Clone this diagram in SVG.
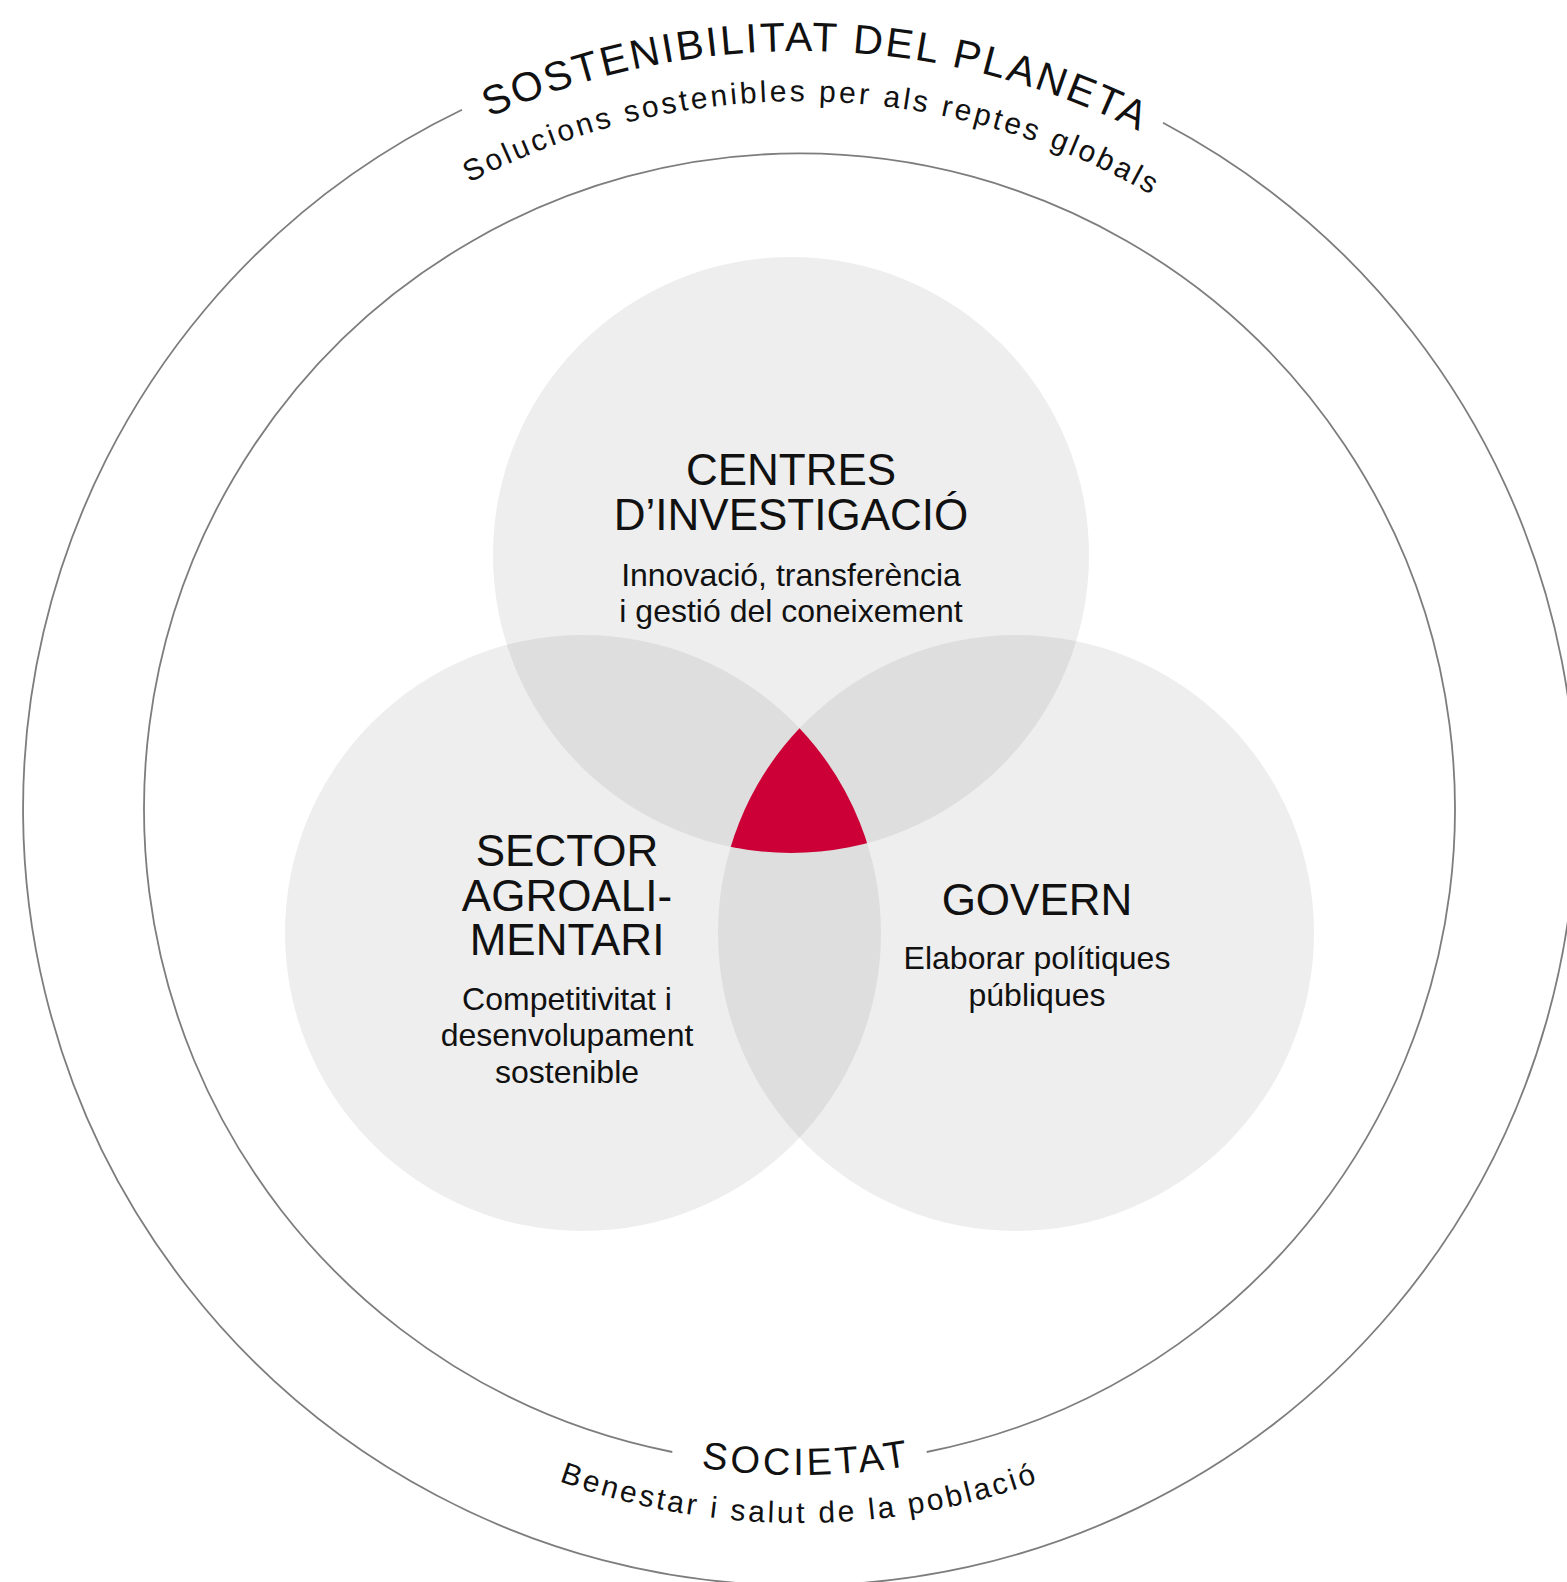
<svg xmlns="http://www.w3.org/2000/svg" width="1567" height="1582" viewBox="0 0 1567 1582">
  <style>
    .ring { fill: none; stroke: #7d7d7d; stroke-width: 1.8; }
    .disc { fill: #eeeeee; }
    .lens { fill: #dedede; }
    .core { fill: #cc0036; }
    .t { font-family: "Liberation Sans", Arial, Helvetica, sans-serif; fill: #111111; }
    .head { font-size: 44px; text-anchor: middle; }
    .sub { font-size: 32px; text-anchor: middle; }
    .arcHead { font-size: 41px; letter-spacing: 2.5px; }
    .arcSub { font-size: 30px; letter-spacing: 3px; }
  </style>
  <defs>
    <clipPath id="clipTop"><circle cx="791" cy="555" r="298"/></clipPath>
    <clipPath id="clipLeft"><circle cx="583" cy="933" r="298"/></clipPath>
    <clipPath id="clipLeftRight" clip-path="url(#clipLeft)"><circle cx="1016" cy="933" r="298"/></clipPath>
    <path id="arcTitle" d="M 41.5 809 A 758 758 0 0 1 1557.5 809"/>
    <path id="arcSubtitle" d="M 91.5 809 A 708 708 0 0 1 1507.5 809"/>
    <path id="arcSoc" d="M 133.5 809 A 666 666 0 0 0 1465.5 809"/>
    <path id="arcSocSub" d="M 85.5 809 A 714 714 0 0 0 1513.5 809"/>
  </defs>

  <g id="outer-ring">
    <path class="ring" d="M 1163 122.8 A 776.5 776.5 0 1 1 462 109.7"/>
    <text class="t arcHead" transform="rotate(1.3 799.5 809)"><textPath href="#arcTitle" startOffset="50%" text-anchor="middle">SOSTENIBILITAT DEL PLANETA</textPath></text>
    <text class="t arcSub" transform="rotate(1.1 799.5 809)"><textPath href="#arcSubtitle" startOffset="50%" text-anchor="middle">Solucions sostenibles per als reptes globals</textPath></text>
  </g>

  <g id="inner-ring">
    <path class="ring" d="M 926.7 1452 A 655.5 655.5 0 1 0 672.3 1452"/>
    <text class="t" style="font-size:38px;letter-spacing:3.4px" transform="rotate(-0.6 799.5 809)"><textPath href="#arcSoc" startOffset="50%" text-anchor="middle">SOCIETAT</textPath></text>
    <text class="t arcSub" style="letter-spacing:2.9px"><textPath href="#arcSocSub" startOffset="50%" text-anchor="middle">Benestar i salut de la població</textPath></text>
  </g>

  <g id="venn-discs">
    <circle id="disc-centres" class="disc" cx="791" cy="555" r="298"/>
    <circle id="disc-sector" class="disc" cx="583" cy="933" r="298"/>
    <circle id="disc-govern" class="disc" cx="1016" cy="933" r="298"/>
    <circle class="lens" cx="583" cy="933" r="298" clip-path="url(#clipTop)"/>
    <circle class="lens" cx="1016" cy="933" r="298" clip-path="url(#clipTop)"/>
    <circle class="lens" cx="1016" cy="933" r="298" clip-path="url(#clipLeft)"/>
    <circle id="core" class="core" cx="791" cy="555" r="298" clip-path="url(#clipLeftRight)"/>
  </g>

  <g id="node-centres" class="t">
    <text class="head" x="791" y="485">CENTRES</text>
    <text class="head" x="791" y="530">D’INVESTIGACIÓ</text>
    <text class="sub" x="791" y="586">Innovació, transferència</text>
    <text class="sub" x="791" y="622">i gestió del coneixement</text>
  </g>

  <g id="node-sector" class="t">
    <text class="head" x="567" y="866">SECTOR</text>
    <text class="head" x="567" y="911">AGROALI-</text>
    <text class="head" x="567" y="955">MENTARI</text>
    <text class="sub" x="567" y="1010">Competitivitat i</text>
    <text class="sub" x="567" y="1046">desenvolupament</text>
    <text class="sub" x="567" y="1083">sostenible</text>
  </g>

  <g id="node-govern" class="t">
    <text class="head" x="1037" y="915">GOVERN</text>
    <text class="sub" x="1037" y="969">Elaborar polítiques</text>
    <text class="sub" x="1037" y="1006">públiques</text>
  </g>

  <g id="connectors"></g>
</svg>
